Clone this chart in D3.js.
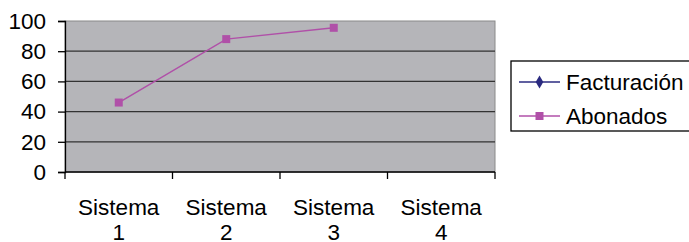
<!DOCTYPE html>
<html>
<head>
<meta charset="utf-8">
<script src="https://cdn.jsdelivr.net/npm/d3@7"></script>
<style>
  body { margin: 0; background: #fff; }
  svg { display: block; font-family: "Liberation Sans", Arial, sans-serif; }
</style>
</head>
<body>
<div id="chart"></div>
<script>
const categories = ["Sistema 1", "Sistema 2", "Sistema 3", "Sistema 4"];
const facturacion = [null, null, null, null];
const abonados = [46, 88, 95.5, null];
const yTicks = [0, 20, 40, 60, 80, 100];
const seriesNames = ["Facturación", "Abonados"];

const width = 689, height = 242;
const margin = { top: 21, right: 194, bottom: 70, left: 65 };
const innerWidth = width - margin.left - margin.right;
const innerHeight = height - margin.top - margin.bottom;

const svg = d3.select("#chart").append("svg")
    .attr("width", width)
    .attr("height", height);

const graph = svg.append("g")
    .attr("transform", "translate(" + margin.left + "," + margin.top + ")");

const x = d3.scaleBand().domain(categories).range([0, innerWidth]);
const y = d3.scaleLinear().domain([0, 100]).range([innerHeight, 0]);

// plot background
graph.append("rect")
    .attr("width", innerWidth)
    .attr("height", innerHeight)
    .attr("fill", "#b5b5b9")
    .attr("stroke", "#8a8a8a")
    .attr("stroke-width", 1);

// gridlines
graph.selectAll(".grid")
    .data(yTicks.filter(t => t > 0 && t < 100))
    .enter().append("line")
    .attr("x1", 0).attr("x2", innerWidth)
    .attr("y1", d => y(d)).attr("y2", d => y(d))
    .attr("stroke", "#333")
    .attr("stroke-width", 1.3);

// Y axis
const yAxis = graph.append("g")
    .call(d3.axisLeft(y).tickValues(yTicks).tickSize(7).tickPadding(12));
yAxis.selectAll("text").attr("font-size", 22.5).attr("fill", "#000")
    .attr("font-family", "Liberation Sans, Arial, sans-serif");
yAxis.selectAll("line, path").attr("stroke", "#000").attr("stroke-width", 1.3);

// X axis with ticks at category boundaries
const bounds = d3.range(categories.length + 1).map(i => i * x.bandwidth());
const xAxis = graph.append("g").attr("transform", "translate(0," + innerHeight + ")");
xAxis.append("line")
    .attr("x1", 0).attr("x2", innerWidth)
    .attr("stroke", "#000").attr("stroke-width", 1.3);
xAxis.selectAll(".tk").data(bounds).enter().append("line")
    .attr("x1", d => d).attr("x2", d => d)
    .attr("y1", 0).attr("y2", 7)
    .attr("stroke", "#000").attr("stroke-width", 1.3);
const labels = xAxis.selectAll(".lbl").data(categories).enter().append("text")
    .attr("x", d => x(d) + x.bandwidth() / 2)
    .attr("text-anchor", "middle")
    .attr("font-size", 22.5)
    .attr("fill", "#000");
labels.append("tspan").attr("x", d => x(d) + x.bandwidth() / 2).attr("y", 43)
    .text(d => d.split(" ")[0]);
labels.append("tspan").attr("x", d => x(d) + x.bandwidth() / 2).attr("y", 68)
    .text(d => d.split(" ")[1]);

// lines
const colors = ["#2b2b80", "#b050a8"];
const allSeries = [facturacion, abonados];
const line = d3.line()
    .defined(d => d != null)
    .x((d, i) => x(categories[i]) + x.bandwidth() / 2)
    .y(d => y(d));

allSeries.forEach((s, k) => {
    graph.append("path")
        .datum(s)
        .attr("fill", "none")
        .attr("stroke", colors[k])
        .attr("stroke-width", 1.5)
        .attr("d", line);
    graph.selectAll(".pt" + k)
        .data(s.map((v, i) => ({ v, i })).filter(d => d.v != null))
        .enter().append("rect")
        .attr("x", d => x(categories[d.i]) + x.bandwidth() / 2 - 4)
        .attr("y", d => y(d.v) - 4)
        .attr("width", 8).attr("height", 8)
        .attr("fill", colors[k]);
});

// legend
const legend = svg.append("g").attr("transform", "translate(511,61)");
legend.append("rect")
    .attr("width", 186).attr("height", 70)
    .attr("fill", "#fff").attr("stroke", "#000").attr("stroke-width", 1.3);
seriesNames.forEach((name, k) => {
    const cy = 21 + k * 34;
    legend.append("line")
        .attr("x1", 8).attr("x2", 49).attr("y1", cy).attr("y2", cy)
        .attr("stroke", colors[k]).attr("stroke-width", 1.5);
    if (k === 0) {
        legend.append("path")
            .attr("d", d3.symbol(d3.symbolDiamond, 50)())
            .attr("transform", "translate(28.5," + cy + ")")
            .attr("fill", colors[k]);
    } else {
        legend.append("rect")
            .attr("x", 24.5).attr("y", cy - 4).attr("width", 8).attr("height", 8)
            .attr("fill", colors[k]);
    }
    legend.append("text")
        .attr("x", 55).attr("y", cy + 8)
        .attr("font-size", 22.5).attr("fill", "#000")
        .text(name);
});
</script>
</body>
</html>
